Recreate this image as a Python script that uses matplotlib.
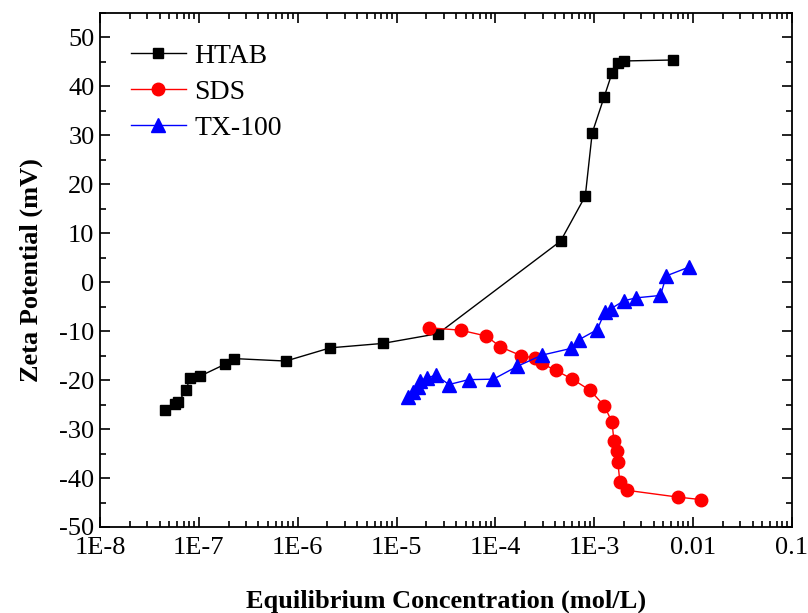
import numpy as np
import matplotlib
matplotlib.use('Agg')
import matplotlib.pyplot as plt
from matplotlib.ticker import LogLocator, FixedLocator, MultipleLocator

# log10 of equilibrium concentration (mol/L) and zeta potential (mV)
htab_logc = [-7.34, -7.24, -7.21, -7.13, -7.09, -6.99, -6.74, -6.64, -6.12,
             -5.67, -5.14, -4.58, -3.34, -3.09, -3.02, -2.90, -2.82, -2.76,
             -2.70, -2.20]
htab_zeta = [-26.2, -24.9, -24.5, -22.1, -19.5, -19.2, -16.8, -15.6, -16.1,
             -13.4, -12.5, -10.5, 8.4, 17.6, 30.5, 37.8, 42.7, 44.7,
             45.2, 45.4]

sds_logc = [-4.67, -4.35, -4.09, -3.95, -3.74, -3.60, -3.53, -3.39, -3.22,
            -3.04, -2.90, -2.82, -2.80, -2.77, -2.76, -2.74, -2.67, -2.15,
            -1.92]
sds_zeta = [-9.3, -9.8, -11.0, -13.2, -15.0, -15.5, -16.6, -18.0, -19.8,
            -22.1, -25.2, -28.5, -32.4, -34.4, -36.8, -40.8, -42.5, -43.9,
            -44.4]

tx_logc = [-4.88, -4.83, -4.78, -4.76, -4.69, -4.60, -4.47, -4.27, -4.02,
           -3.78, -3.53, -3.23, -3.15, -2.97, -2.89, -2.83, -2.70, -2.58,
           -2.33, -2.27, -2.04]
tx_zeta = [-23.4, -22.4, -21.3, -20.2, -19.5, -19.0, -20.9, -19.9, -19.8,
           -17.2, -14.9, -13.5, -11.7, -9.7, -6.0, -5.4, -3.8, -3.2,
           -2.7, 1.3, 3.1]

x_ticks = [1e-8, 1e-7, 1e-6, 1e-5, 1e-4, 1e-3, 1e-2, 1e-1]
x_labels = ['1E-8', '1E-7', '1E-6', '1E-5', '1E-4', '1E-3', '0.01', '0.1']

plt.rcParams['font.family'] = ['Liberation Serif', 'DejaVu Serif']
plt.rcParams['axes.unicode_minus'] = False

fig = plt.figure(figsize=(8.08, 6.13), dpi=100)
ax = fig.add_axes([0.1238, 0.1403, 0.8562, 0.8385])

ax.plot(10 ** np.array(htab_logc), htab_zeta, color='black', lw=1,
        marker='s', ms=7.5, label='HTAB')
ax.plot(10 ** np.array(sds_logc), sds_zeta, color='red', lw=1,
        marker='o', ms=9, label='SDS')
ax.plot(10 ** np.array(tx_logc), tx_zeta, color='blue', lw=1,
        marker='^', ms=9.5, label='TX-100')

ax.set_xscale('log')
ax.set_xlim(1e-8, 1e-1)
ax.set_ylim(-50, 55)
ax.xaxis.set_major_locator(FixedLocator(x_ticks))
ax.set_xticks(x_ticks)
ax.set_xticklabels(x_labels)
ax.xaxis.set_minor_locator(LogLocator(base=10, subs=np.arange(2, 10), numticks=20))
ax.set_yticks(np.arange(-50, 51, 10))
ax.yaxis.set_minor_locator(MultipleLocator(5))

ax.tick_params(which='both', direction='in', top=True, right=True,
               labelsize=19, width=1.2)
ax.tick_params(which='major', length=7)
ax.tick_params(axis='x', which='major', pad=7)
ax.tick_params(axis='y', which='major', pad=4)
ax.tick_params(which='minor', length=4)
for s in ax.spines.values():
    s.set_linewidth(1.3)

ax.set_xlabel('Equilibrium Concentration (mol/L)', fontsize=19,
              fontweight='bold', labelpad=22)
ax.set_ylabel('Zeta Potential (mV)', fontsize=19, fontweight='bold',
              labelpad=12)

ax.legend(loc='upper left', frameon=False, fontsize=20,
          bbox_to_anchor=(0.008, 0.99), handlelength=2.0, handletextpad=0.3,
          labelspacing=0.38)

fig.savefig('out.png', dpi=100)
